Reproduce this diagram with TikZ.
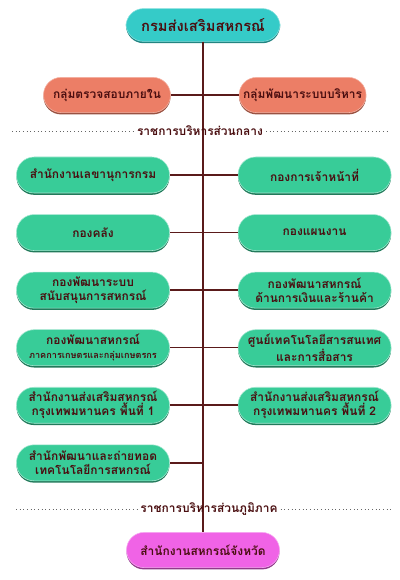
\documentclass[tikz,border=0pt]{standalone}
\usepackage{fontspec}
\newfontfamily\thaifont[Script=Thai]{Loma}
\usepackage{tikz}
\usetikzlibrary{positioning, shadows}

\definecolor{spinecol}{HTML}{5A1A1A}
\definecolor{textcol}{HTML}{4A0E10}
\definecolor{topfill}{HTML}{35CBC8}
\definecolor{salmonfill}{HTML}{EC7E66}
\definecolor{greenfill}{HTML}{38CC98}
\definecolor{pinkfill}{HTML}{F063E6}

\begin{document}
\begin{tikzpicture}[
    font=\thaifont, text=textcol,
    node distance=0.525cm and 1.7cm,
    box/.style={rectangle, rounded corners=0.44cm, align=center, font=\thaifont\bfseries\fontsize{8.5}{10}\selectfont,
        minimum width=3.825cm, minimum height=0.9cm, inner sep=1pt, text=textcol},
    topbox/.style={box, fill=topfill, draw=topfill!60!white, minimum width=3.85cm, minimum height=0.82cm,
        font=\thaifont\bfseries\fontsize{10.5}{12}\selectfont,
        drop shadow={shadow xshift=0pt, shadow yshift=-1.3pt, fill=topfill!65!black, opacity=1}},
    groupbox/.style={box, fill=salmonfill, draw=salmonfill!60!white, minimum width=3.175cm, minimum height=0.88cm,
        drop shadow={shadow xshift=0pt, shadow yshift=-1.3pt, fill=salmonfill!65!black, opacity=1}},
    divbox/.style={box, fill=greenfill, draw=greenfill!45!white,
        drop shadow={shadow xshift=0pt, shadow yshift=-1.3pt, fill=greenfill!60!black, opacity=1}},
    provbox/.style={box, fill=pinkfill, draw=pinkfill!55!white, minimum width=3.825cm, minimum height=0.88cm,
        drop shadow={shadow xshift=0pt, shadow yshift=-1.3pt, fill=pinkfill!60!black, opacity=1}},
    section/.style={font=\thaifont\bfseries\fontsize{8.5}{10}\selectfont, inner sep=2pt},
    link/.style={draw=spinecol, line width=1.1pt},
    spine/.style={draw=spinecol, line width=1.5pt},
    divider/.style={draw=black!60, dotted, line width=0.6pt}
]
\useasboundingbox (0,0) rectangle (10,-14.5);

% Nodes
\node (dept) [topbox] at (5.075,-0.625) {กรมส่งเสริมสหกรณ์};
\node (audit) [groupbox] at (2.675,-2.375) {กลุ่มตรวจสอบภายใน};
\node (admin) [groupbox, right=1.7cm of audit] {กลุ่มพัฒนาระบบบริหาร};

\node (secretary) [divbox] at (2.325,-4.375) {สำนักงานเลขานุการกรม};
\node (treasury) [divbox, below=of secretary] {กองคลัง};
\node (support) [divbox, below=of treasury] {กองพัฒนาระบบ\\สนับสนุนการสหกรณ์};
\node (agri) [divbox, below=of support] {กองพัฒนาสหกรณ์\\{\fontsize{6.5}{8}\selectfont ภาคการเกษตรและกลุ่มเกษตรกร}};
\node (bkk1) [divbox, below=of agri] {สำนักงานส่งเสริมสหกรณ์\\กรุงเทพมหานคร พื้นที่ 1};
\node (transfer) [divbox, below=of bkk1] {สำนักพัฒนาและถ่ายทอด\\เทคโนโลยีการสหกรณ์};

\node (personnel) [divbox, right=of secretary] {กองการเจ้าหน้าที่};
\node (planning) [divbox, right=of treasury] {กองแผนงาน};
\node (finance) [divbox, right=of support] {กองพัฒนาสหกรณ์\\ด้านการเงินและร้านค้า};
\node (ict) [divbox, right=of agri] {ศูนย์เทคโนโลยีสารสนเทศ\\และการสื่อสาร};
\node (bkk2) [divbox, right=of bkk1] {สำนักงานส่งเสริมสหกรณ์\\กรุงเทพมหานคร พื้นที่ 2};

\node (province) [provbox] at (5.075,-13.75) {สำนักงานสหกรณ์จังหวัด};

% Lines
\draw [spine] (dept.south) -- (province.north);
\draw [link] (audit) -- (admin);
\draw [link] (secretary) -- (personnel);
\draw [link] (treasury) -- (planning);
\draw [link] (support) -- (finance);
\draw [link] (agri) -- (ict);
\draw [link] (bkk1) -- (bkk2);
\draw [link] (transfer.east) -- (transfer.east -| dept.south);

% Section labels
\node (central) [section] at (5.0,-3.275) {ราชการบริหารส่วนกลาง};
\node (regional) [section] at (5.225,-12.725) {ราชการบริหารส่วนภูมิภาค};
\coordinate (cl) at (0.3,-3.275);
\coordinate (cr) at (9.75,-3.275);
\coordinate (rl) at (0.4,-12.725);
\coordinate (rr) at (9.825,-12.725);
\draw [divider] (cl) -- (central.west);
\draw [divider] (central.east) -- (cr);
\draw [divider] (rl) -- (regional.west);
\draw [divider] (regional.east) -- (rr);

\end{tikzpicture}
\end{document}
